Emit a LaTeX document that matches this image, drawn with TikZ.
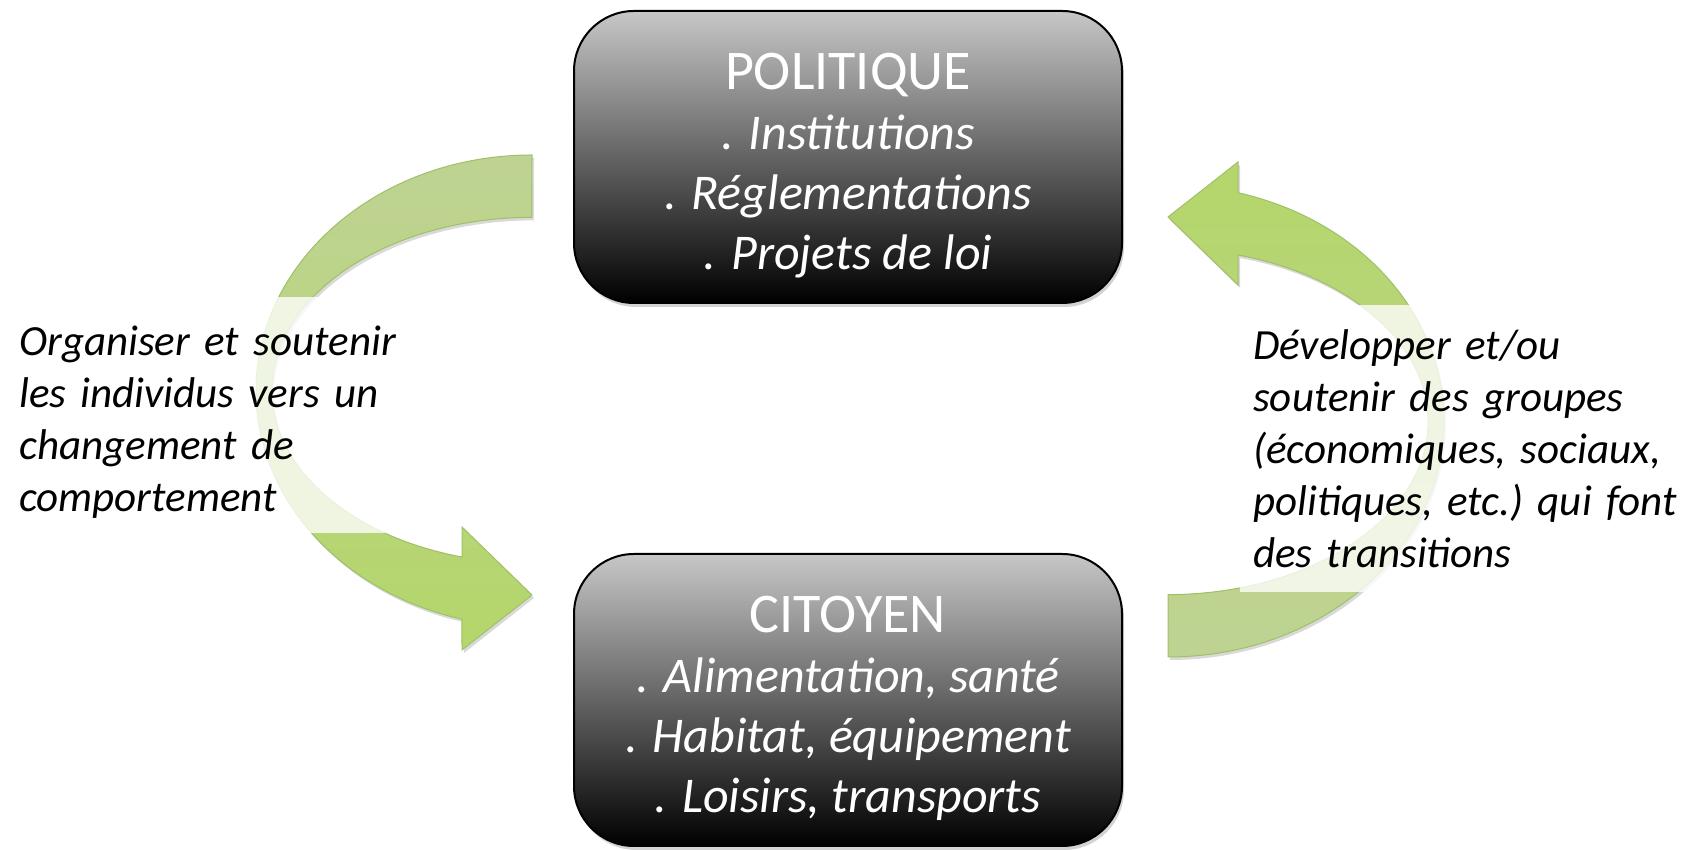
\documentclass[tikz,border=0pt]{standalone}
\usepackage{fontspec}
\setmainfont{Carlito}
\usetikzlibrary{shadows,backgrounds}

\definecolor{vertpale}{RGB}{190,211,147}
\definecolor{vertvif}{RGB}{180,214,106}
\definecolor{vertbord}{RGB}{160,192,104}

\newcommand\titre[1]{\rule{0pt}{54pt}{\fontsize{56}{60}\selectfont #1}}

\tikzset{
  niveau/.style={draw=black, line width=2pt, rounded corners=60pt,
    top color=black!22, bottom color=black, text=white, align=center,
    minimum width=548pt, minimum height=292pt,
    font=\fontsize{50}{60}\selectfont,
    drop shadow={shadow xshift=2pt, shadow yshift=-4pt, opacity=0.35}},
  action/.style={fill=white, fill opacity=0.78, text opacity=1,
    anchor=west, align=left, inner ysep=0pt,
    font=\fontsize{43}{52}\selectfont\itshape\frenchspacing},
  fleche/.style={draw=vertbord, line width=1pt,
    drop shadow={shadow xshift=2pt, shadow yshift=-3pt, opacity=0.3}}
}

\begin{document}
\begin{tikzpicture}[x=1pt, y=1pt]
\useasboundingbox (0,0) rectangle (1689,850);

\node[niveau] (pol) at (848,693) {\titre{POLITIQUE}\\\textit{. Institutions}\\\textit{. Réglementations}\\\textit{. Projets de loi}};
\node[niveau] (cit) at (848,150) {\titre{CITOYEN}\\\textit{. Alimentation, santé}\\\textit{. Habitat, équipement}\\\textit{. Loisirs, transports}};

\node[action, minimum height=236pt, text width=400pt, inner xsep=19pt] (gauche) at (0,435)
  {\rule{0pt}{44pt}Organiser et soutenir\\les individus vers un\\changement de\\comportement};
\node[action, minimum height=287pt, text width=440pt, inner xsep=13pt] (droite) at (1240,401.5)
  {Développer et/ou\\soutenir des groupes\\(économiques, sociaux,\\politiques, etc.) qui font\\des transitions};

\begin{scope}[on background layer]
% politique -> citoyen
\path[fleche, top color=vertpale, bottom color=vertvif]
  (532,695) arc[start angle=90, end angle=255.3, x radius=276, y radius=236]
  -- (462,200) -- (532,255) -- (462,323) -- (462,293)
  arc[start angle=254.4, end angle=90, x radius=260, y radius=173] -- cycle;
% citoyen -> politique
\path[fleche, top color=vertvif, bottom color=vertpale]
  (1168,193) arc[start angle=-90, end angle=75.3, x radius=276, y radius=236]
  -- (1238,688) -- (1168,633) -- (1238,565) -- (1238,595)
  arc[start angle=74.4, end angle=-90, x radius=260, y radius=173] -- cycle;
\end{scope}
\end{tikzpicture}
\end{document}
